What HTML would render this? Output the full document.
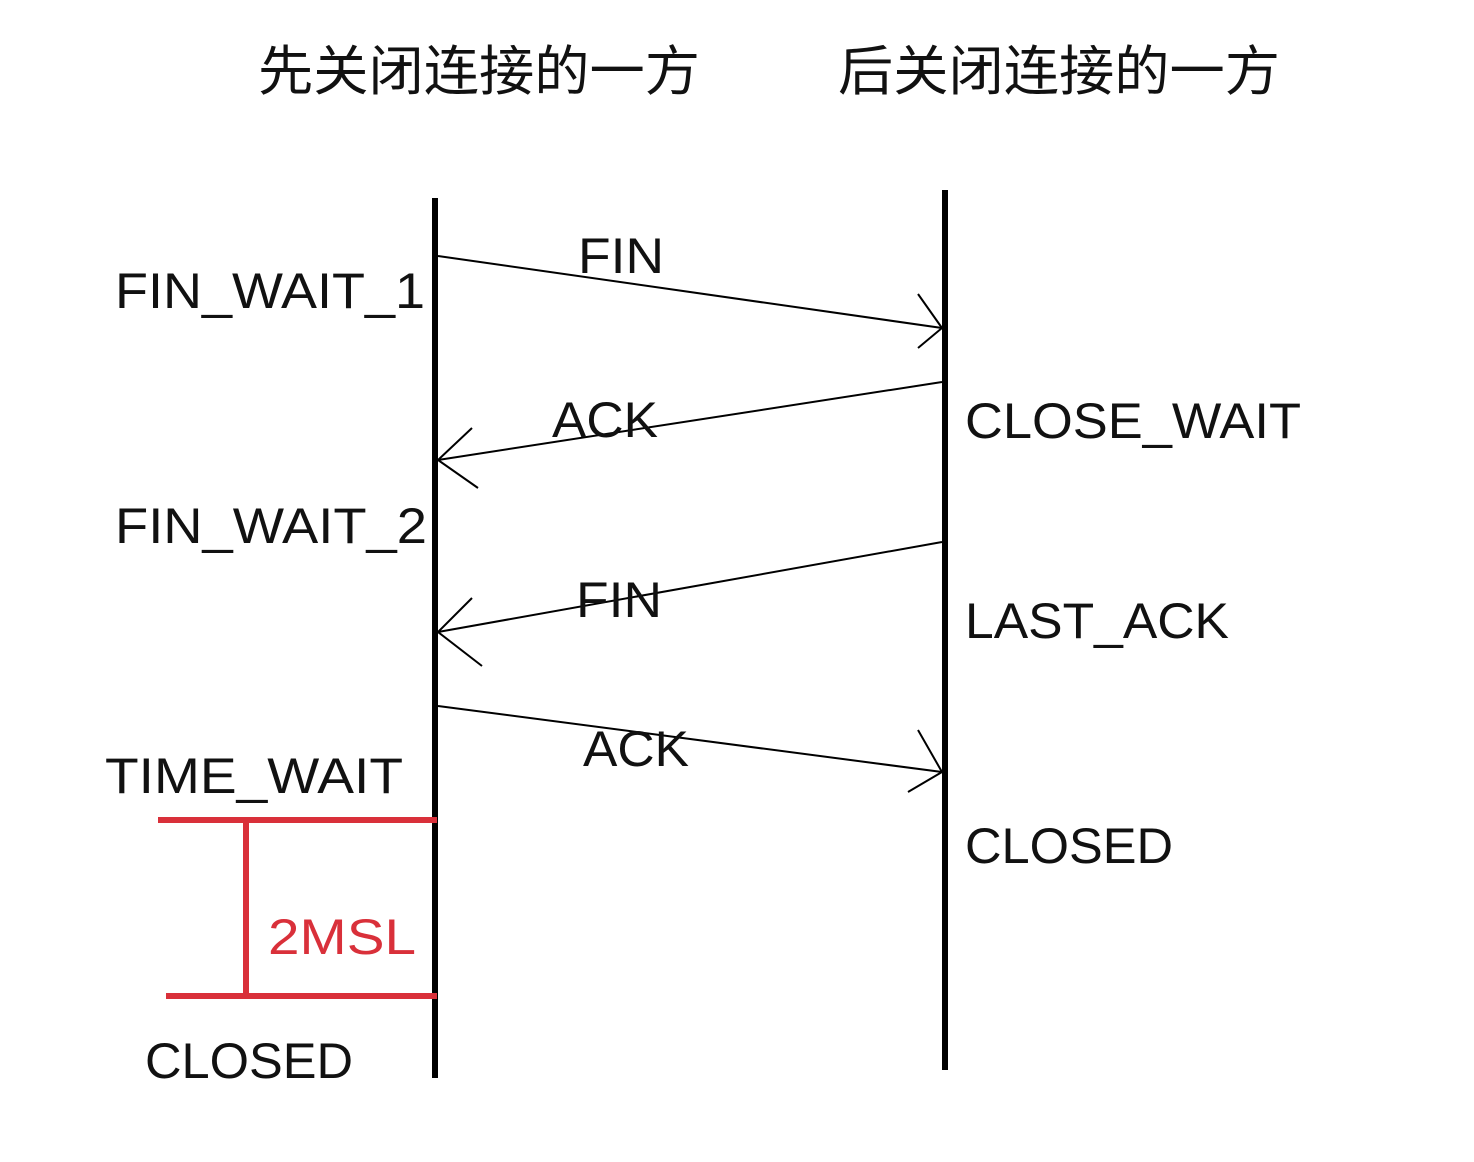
<!DOCTYPE html>
<html><head><meta charset="utf-8"><style>
html,body{margin:0;padding:0;background:#fff;}
svg{display:block;}
text{font-family:"Liberation Sans","Noto Sans CJK SC",sans-serif;fill:#111;}
</style></head><body>
<svg width="1474" height="1162" viewBox="0 0 1474 1162">
<text x="258" y="90" font-size="54" textLength="442" lengthAdjust="spacingAndGlyphs">先关闭连接的一方</text>
<text x="838" y="90" font-size="54" textLength="442" lengthAdjust="spacingAndGlyphs">后关闭连接的一方</text>
<line x1="435" y1="198" x2="435" y2="1078" stroke="#000" stroke-width="6"/>
<line x1="945" y1="190" x2="945" y2="1070" stroke="#000" stroke-width="6"/>
<g stroke="#000" stroke-width="2" fill="none">
<line x1="438" y1="256" x2="942" y2="328"/>
<polyline points="918,294 942,328 918,348"/>
<line x1="942" y1="382" x2="438" y2="460"/>
<polyline points="472,428 438,460 478,488"/>
<line x1="942" y1="542" x2="438" y2="632"/>
<polyline points="472,598 438,632 482,666"/>
<line x1="438" y1="706" x2="942" y2="772"/>
<polyline points="918,730 942,772 908,792"/>
</g>
<g font-size="50">
<text x="115" y="308" textLength="310" lengthAdjust="spacingAndGlyphs">FIN_WAIT_1</text>
<text x="115" y="543" textLength="312" lengthAdjust="spacingAndGlyphs">FIN_WAIT_2</text>
<text x="105" y="793" textLength="298" lengthAdjust="spacingAndGlyphs">TIME_WAIT</text>
<text x="145" y="1078" textLength="208" lengthAdjust="spacingAndGlyphs">CLOSED</text>
<text x="965" y="438" textLength="336" lengthAdjust="spacingAndGlyphs">CLOSE_WAIT</text>
<text x="965" y="638" textLength="264" lengthAdjust="spacingAndGlyphs">LAST_ACK</text>
<text x="965" y="863" textLength="208" lengthAdjust="spacingAndGlyphs">CLOSED</text>
<text x="578" y="273" textLength="86" lengthAdjust="spacingAndGlyphs">FIN</text>
<text x="552" y="437" textLength="106" lengthAdjust="spacingAndGlyphs">ACK</text>
<text x="576" y="617" textLength="86" lengthAdjust="spacingAndGlyphs">FIN</text>
<text x="583" y="766" textLength="106" lengthAdjust="spacingAndGlyphs">ACK</text>
</g>
<g stroke="#d9303a" stroke-width="6">
<line x1="158" y1="820" x2="437" y2="820"/>
<line x1="166" y1="996" x2="437" y2="996"/>
<line x1="246" y1="820" x2="246" y2="996"/>
</g>
<text x="268" y="954" font-size="50" style="fill:#d9303a" textLength="148" lengthAdjust="spacingAndGlyphs">2MSL</text>
</svg>
</body></html>
